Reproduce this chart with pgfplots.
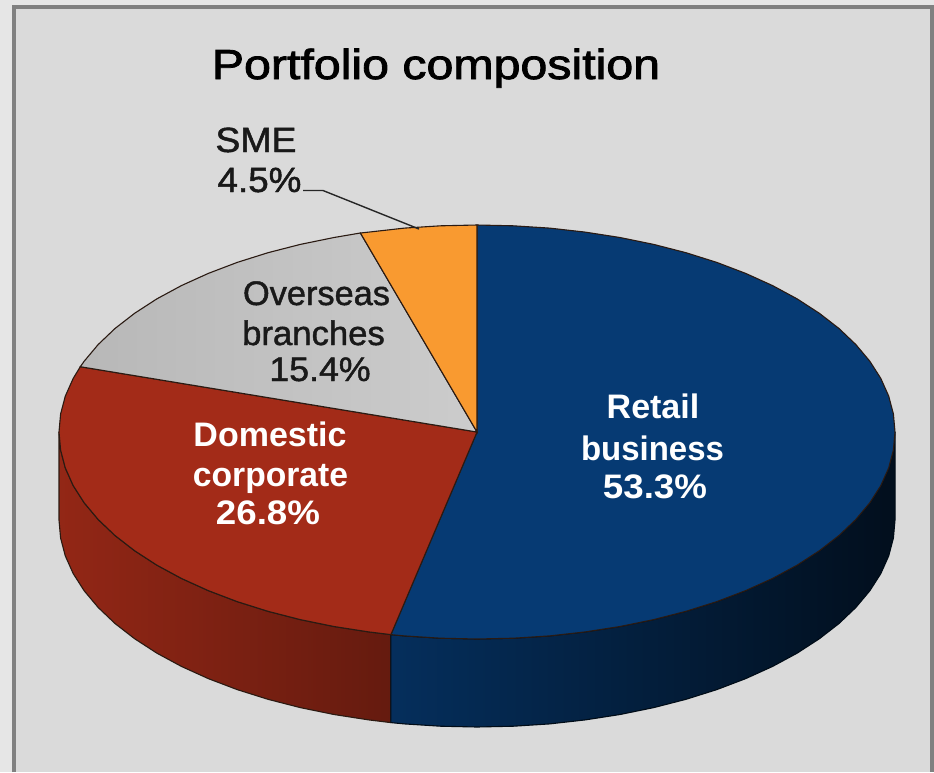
\documentclass[border=0pt]{standalone}
\usepackage{pgfplots}
\pgfplotsset{compat=1.18}
\usepackage{fontspec}
\setmainfont{Liberation Sans}
\newfontfamily\semi[FakeBold=1.3]{Liberation Sans}
\newfontfamily\semib[FakeBold=1.8]{Liberation Sans}
\definecolor{bgout}{HTML}{E6E6E6}
\definecolor{bgin}{HTML}{DADADA}
\definecolor{frm}{HTML}{808080}
\definecolor{blue1}{HTML}{063A73}
\definecolor{red1}{HTML}{A32B18}
\definecolor{org}{HTML}{F99A30}
\definecolor{edge}{HTML}{2A1A12}
\newcommand\lbl[6]{\node[anchor=base,inner sep=0pt,text=#1] at (axis cs:#2,#3) {\scalebox{#5}[1]{\fontsize{#4}{#4}\selectfont #6}};}
\begin{document}
\begin{tikzpicture}
\begin{axis}[
  width=934pt,height=772pt,scale only axis,
  xmin=0,xmax=934,ymin=0,ymax=772,y dir=reverse,
  axis lines=none,clip=true,
  every axis plot/.append style={no marks,forget plot,sharp plot},
]
\addplot[fill=bgout,draw=none] coordinates {(0,0)(934,0)(934,772)(0,772)} --cycle;
\addplot[fill=bgin,draw=none] coordinates {(14,7)(932,7)(932,772)(14,772)} --cycle;
\addplot[draw=frm,line width=4.2pt] coordinates {(14.3,772)(14.3,7)(932,7)(932,772)};
% side of the red slice
\addplot[left color=red1!90!black,right color=red1!62!black,draw=edge,line width=1.1pt] coordinates {
(390.9,634.6)(368.8,631.9)(334,626.5)(300.3,619.6)(268,611.3)(237.2,601.6)(208.3,590.6)(181.4,578.4)(156.8,565.1)(134.6,550.7)(115,535.5)(98.2,519.5)(84.2,502.8)(73.2,485.6)(65.3,467.9)(60.6,450)(59,432)
(59,520)(60.6,538)(65.3,555.9)(73.2,573.6)(84.2,590.8)(98.2,607.5)(115,623.5)(134.6,638.7)(156.8,653.1)(181.4,666.4)(208.3,678.6)(237.2,689.6)(268,699.3)(300.3,707.6)(334,714.5)(368.8,719.9)(390.9,722.6)} --cycle;
% side of the blue slice
\addplot[left color=blue1!80!black,right color=blue1!25!black,draw=black!80!blue1,line width=1.1pt] coordinates {
(895,432)(893.4,450)(888.7,467.9)(880.8,485.6)(869.8,502.8)(855.8,519.5)(839,535.5)(819.4,550.7)(797.2,565.1)(772.6,578.4)(745.7,590.6)(716.8,601.6)(686,611.3)(653.7,619.6)(620,626.5)(585.2,631.9)(549.6,635.9)(513.4,638.2)(477,639)(440.6,638.2)(404.4,635.9)(390.9,634.6)
(390.9,722.6)(404.4,723.9)(440.6,726.2)(477,727)(513.4,726.2)(549.6,723.9)(585.2,719.9)(620,714.5)(653.7,707.6)(686,699.3)(716.8,689.6)(745.7,678.6)(772.6,666.4)(797.2,653.1)(819.4,638.7)(839,623.5)(855.8,607.5)(869.8,590.8)(880.8,573.6)(888.7,555.9)(893.4,538)(895,520)} --cycle;
% top: blue
\addplot[fill=blue1,draw=edge,line width=1.1pt] coordinates {
(477,432)(477,225)(513.4,225.8)(549.6,228.1)(585.2,232.1)(620,237.5)(653.7,244.4)(686,252.7)(716.8,262.4)(745.7,273.4)(772.6,285.6)(797.2,298.9)(819.4,313.3)(839,328.5)(855.8,344.5)(869.8,361.2)(880.8,378.4)(888.7,396.1)(893.4,414)(895,432)(893.4,450)(888.7,467.9)(880.8,485.6)(869.8,502.8)(855.8,519.5)(839,535.5)(819.4,550.7)(797.2,565.1)(772.6,578.4)(745.7,590.6)(716.8,601.6)(686,611.3)(653.7,619.6)(620,626.5)(585.2,631.9)(549.6,635.9)(513.4,638.2)(477,639)(440.6,638.2)(404.4,635.9)(390.9,634.6)} --cycle;
% top: red
\addplot[fill=red1,draw=edge,line width=1.1pt] coordinates {
(477,432)(390.9,634.6)(368.8,631.9)(334,626.5)(300.3,619.6)(268,611.3)(237.2,601.6)(208.3,590.6)(181.4,578.4)(156.8,565.1)(134.6,550.7)(115,535.5)(98.2,519.5)(84.2,502.8)(73.2,485.6)(65.3,467.9)(60.6,450)(59,432)(60.6,414)(65.3,396.1)(73.2,378.4)(80.3,366.7)} --cycle;
% top: grey
\addplot[left color=black!28,right color=black!20,draw=edge,line width=1.1pt] coordinates {
(477,432)(80.3,366.7)(84.2,361.2)(98.2,344.5)(115,328.5)(134.6,313.3)(156.8,298.9)(181.4,285.6)(208.3,273.4)(237.2,262.4)(268,252.7)(300.3,244.4)(334,237.5)(360.4,233)} --cycle;
% top: orange
\addplot[fill=org,draw=edge,line width=1.1pt] coordinates {
(477,432)(360.4,233)(368.8,232.1)(404.4,228.1)(440.6,225.8)(477,225)} --cycle;
% leader line
\addplot[draw=black!85,line width=1.4pt] coordinates {(303,190.5)(323,190.5)(419,229)};
% labels
\lbl{black}{436}{79}{42}{1.15}{\semib Portfolio composition}
\lbl{black!90}{256}{152}{35}{1.07}{\semi SME}
\lbl{black!90}{259.5}{192}{35}{1.05}{\semi 4.5\%}
\lbl{black!90}{316.5}{305}{34}{1.01}{\semi Overseas}
\lbl{black!90}{313.5}{345}{34}{1.02}{\semi branches}
\lbl{black!90}{320}{381}{34}{1.05}{\semi 15.4\%}
\lbl{white}{653}{418}{34}{1}{\bfseries Retail}
\lbl{white}{652.5}{460}{34}{0.97}{\bfseries business}
\lbl{white}{655}{498}{34}{1.08}{\bfseries 53.3\%}
\lbl{white}{270}{446}{34}{1}{\bfseries Domestic}
\lbl{white}{270.5}{486}{34}{0.99}{\bfseries corporate}
\lbl{white}{268}{524}{34}{1.08}{\bfseries 26.8\%}
\end{axis}
\end{tikzpicture}
\end{document}
